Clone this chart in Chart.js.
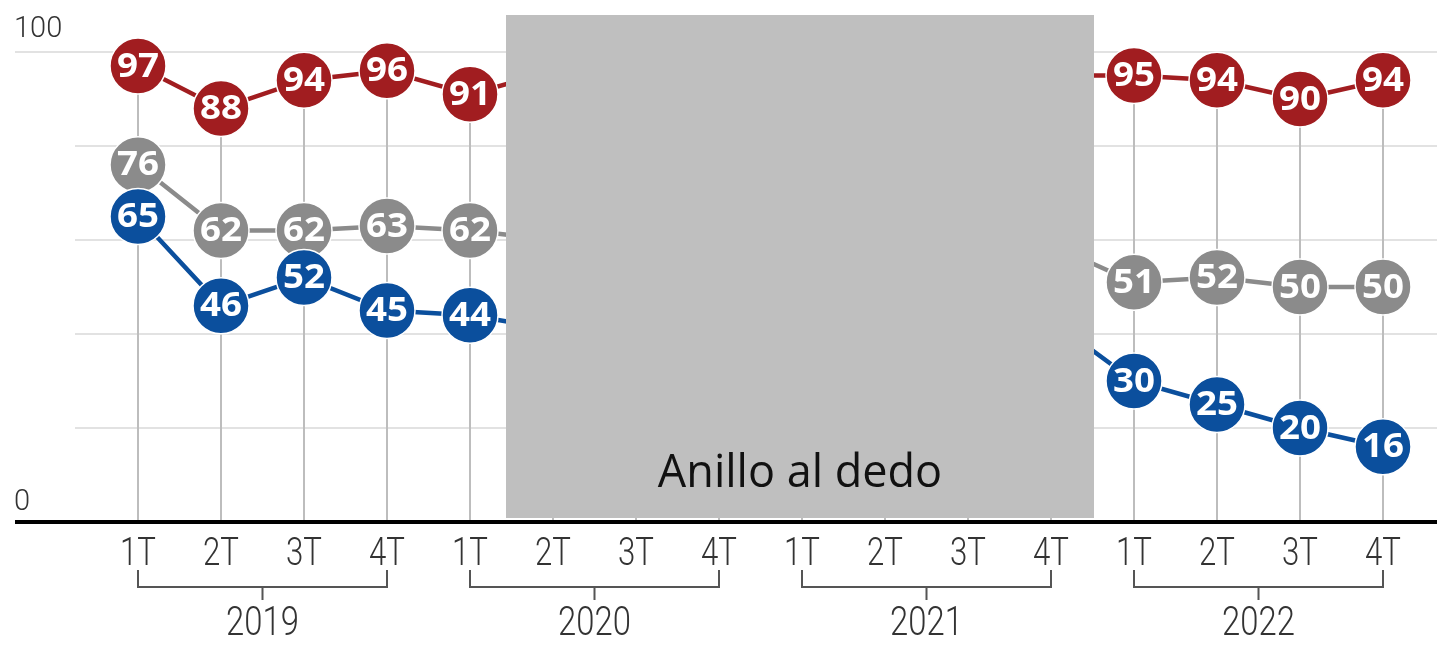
<!DOCTYPE html>
<html>
<head>
<meta charset="utf-8">
<script src="https://cdn.jsdelivr.net/npm/chart.js@4"></script>
<style>
  html, body { margin: 0; padding: 0; background: #ffffff; }
  #wrap { width: 1437px; height: 647px; position: relative; }
</style>
</head>
<body>
<div id="wrap"><canvas id="c" width="1437" height="647"></canvas></div>
<script>
// ---- data ----
const quarters = ["1T","2T","3T","4T","1T","2T","3T","4T","1T","2T","3T","4T","1T","2T","3T","4T"];
const years = ["2019","2020","2021","2022"];
// values hidden behind the grey box are rough estimates from visible line stubs
const redValues  = [97, 88, 94, 96, 91, 96, 94, 95, 94, 95, 94, 95, 95, 94, 90, 94];
const greyValues = [76, 62, 62, 63, 62, 60, 58, 57, 56, 57, 58, 59, 51, 52, 50, 50];
const blueValues = [65, 46, 52, 45, 44, 41, 40, 39, 38, 40, 41, 43, 30, 25, 20, 16];
const yTickLabels = ["100", "0"];
const gridValues = [20, 40, 60, 80];
const boxText = "Anillo al dedo";

const RED = "#a11d20", GREY = "#8b8b8b", BLUE = "#0b4f9d";

function series(data, color) {
  return {
    data: data,
    borderColor: color,
    backgroundColor: color,
    borderWidth: 4.5,
    pointRadius: 28,
    pointHoverRadius: 28,
    pointBackgroundColor: color,
    pointBorderColor: "#ffffff",
    pointBorderWidth: 1.5,
    tension: 0,
    clip: false
  };
}

const TICK_FONT = '300 38px Roboto, "DejaVu Sans", sans-serif';

const decor = {
  id: "decor",
  beforeDatasetsDraw(chart) {
    const ctx = chart.ctx, x = chart.scales.x, y = chart.scales.y;
    ctx.save();
    // horizontal grid
    ctx.strokeStyle = "#e2e2e2";
    ctx.lineWidth = 2;
    gridValues.forEach(v => {
      const py = Math.round(y.getPixelForValue(v));
      ctx.beginPath(); ctx.moveTo(75, py); ctx.lineTo(1437, py); ctx.stroke();
    });
    const p100 = Math.round(y.getPixelForValue(100));
    ctx.beginPath(); ctx.moveTo(15, p100); ctx.lineTo(1437, p100); ctx.stroke();
    // vertical lines from top series down to zero
    ctx.strokeStyle = "#bdbdbd";
    ctx.lineWidth = 2;
    redValues.forEach((v, i) => {
      const px = Math.round(x.getPixelForValue(i));
      ctx.beginPath(); ctx.moveTo(px, y.getPixelForValue(v)); ctx.lineTo(px, y.getPixelForValue(0)); ctx.stroke();
    });
    // y labels
    ctx.fillStyle = "#333";
    ctx.font = '300 29px Roboto, "Open Sans", sans-serif';
    ctx.textAlign = "left";
    ctx.textBaseline = "alphabetic";
    ctx.fillText(yTickLabels[0], 14, p100 - 15);
    ctx.fillText(yTickLabels[1], 14, y.getPixelForValue(0) - 12);
    ctx.restore();
  },
  afterDatasetDraw(chart, args) {
    const ctx = chart.ctx;
    const meta = args.meta;
    const data = chart.data.datasets[args.index].data;
    ctx.save();
    ctx.fillStyle = "#ffffff";
    ctx.font = 'bold 34px "Open Sans", Roboto, sans-serif';
    ctx.textAlign = "center";
    ctx.textBaseline = "middle";
    meta.data.forEach((pt, i) => {
      ctx.save();
      ctx.translate(pt.x, pt.y + 1);
      ctx.scale(1.08, 1);
      ctx.fillText(String(data[i]), 0, 0);
      ctx.restore();
    });
    ctx.restore();
  },
  afterDraw(chart) {
    const ctx = chart.ctx, x = chart.scales.x, y = chart.scales.y;
    ctx.save();
    const y0 = y.getPixelForValue(0);
    // x tick labels
    ctx.fillStyle = "#333";
    ctx.font = TICK_FONT;
    ctx.textAlign = "center";
    ctx.textBaseline = "alphabetic";
    quarters.forEach((q, i) => {
      ctx.save();
      ctx.translate(x.getPixelForValue(i), y0 + 43);
      ctx.scale(0.82, 1);
      ctx.fillText(q, 0, 0);
      ctx.restore();
    });
    // year brackets
    ctx.strokeStyle = "#555";
    ctx.lineWidth = 2;
    years.forEach((yr, k) => {
      const a = Math.round(x.getPixelForValue(k * 4));
      const b = Math.round(x.getPixelForValue(k * 4 + 3));
      const by = y0 + 65;
      ctx.beginPath();
      ctx.moveTo(a, by - 17); ctx.lineTo(a, by); ctx.lineTo(b, by); ctx.lineTo(b, by - 17);
      ctx.moveTo((a + b) / 2, by); ctx.lineTo((a + b) / 2, by + 13);
      ctx.stroke();
      ctx.save();
      ctx.font = '300 40px Roboto, "DejaVu Sans", sans-serif';
      ctx.translate((a + b) / 2, y0 + 113);
      ctx.scale(0.82, 1);
      ctx.fillText(yr, 0, 0);
      ctx.restore();
    });
    // grey overlay box
    const bx0 = x.getPixelForValue(4) + 36;
    const bx1 = x.getPixelForValue(11) + 43;
    const by0 = 15, by1 = y0 - 4;
    ctx.fillStyle = "#bfbfbf";
    ctx.fillRect(bx0, by0, bx1 - bx0, by1 - by0);
    // baseline
    ctx.strokeStyle = "#000";
    ctx.lineWidth = 4;
    ctx.beginPath(); ctx.moveTo(15, y0); ctx.lineTo(1437, y0); ctx.stroke();
    // box text
    ctx.fillStyle = "#111";
    ctx.font = '45px "Open Sans", Lato, sans-serif';
    ctx.textAlign = "center";
    ctx.fillText(boxText, (bx0 + bx1) / 2, y0 - 35);
    ctx.restore();
  }
};

new Chart(document.getElementById("c"), {
  type: "line",
  data: {
    labels: quarters,
    datasets: [series(blueValues, BLUE), series(greyValues, GREY), series(redValues, RED)]
  },
  options: {
    responsive: false,
    animation: false,
    devicePixelRatio: 1,
    events: [],
    layout: { padding: { left: 138, right: 54, top: 52, bottom: 125 } },
    plugins: { legend: { display: false }, tooltip: { enabled: false } },
    scales: {
      x: { type: "category", display: false, offset: false },
      y: { display: false, min: 0, max: 100 }
    }
  },
  plugins: [decor]
});
</script>
</body>
</html>
